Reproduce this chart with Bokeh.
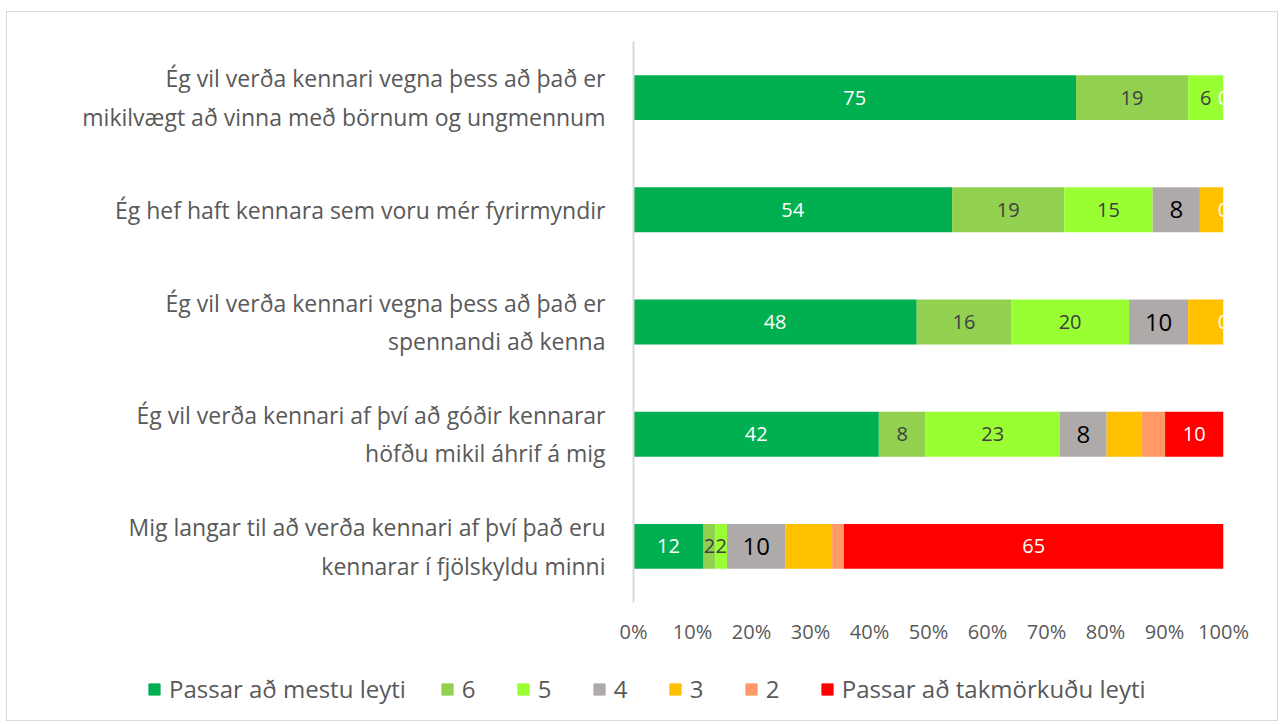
from bokeh.plotting import figure
from bokeh.layouts import column
from bokeh.models import ColumnDataSource, FactorRange, Legend, LegendItem, FixedTicker
from bokeh.core.properties import value
from bokeh.embed import file_html
from bokeh.resources import INLINE

# ---------------- data ----------------
row_labels = [
    "Ég vil verða kennari vegna þess að það er\nmikilvægt að vinna með börnum og ungmennum",
    "Ég hef haft kennara sem voru mér fyrirmyndir",
    "Ég vil verða kennari vegna þess að það er\nspennandi að kenna",
    "Ég vil verða kennari af því að góðir kennarar\nhöfðu mikil áhrif á mig",
    "Mig langar til að verða kennari af því það eru\nkennarar í fjölskyldu minni",
]
series_names = ["Passar að mestu leyti", "6", "5", "4", "3", "2", "Passar að takmörkuðu leyti"]
s7 = [75, 54, 48, 42, 12]
s6 = [19, 19, 16, 8, 2]
s5 = [6, 15, 20, 23, 2]
s4 = [0, 8, 10, 8, 10]
s3 = [0, 4, 6, 6, 8]
s2 = [0, 0, 0, 4, 2]
s1 = [0, 0, 0, 10, 65]
# which segments carry a data label
label_s7 = [True, True, True, True, True]
label_s6 = [True, True, True, True, True]
label_s5 = [True, True, True, True, True]
label_s4 = [False, True, True, True, True]
label_s3 = [False, False, False, False, False]
label_s2 = [False, False, False, False, False]
label_s1 = [True, True, True, True, True]
x_ticks = [0, 10, 20, 30, 40, 50, 60, 70, 80, 90, 100]

series_vals = [s7, s6, s5, s4, s3, s2, s1]
series_lab = [label_s7, label_s6, label_s5, label_s4, label_s3, label_s2, label_s1]
colors = ["#00B050", "#92D050", "#99FF33", "#AEAAAA", "#FFC000", "#FF9966", "#FF0000"]
label_colors = ["#FFFFFF", "#404040", "#404040", "#000000", "#404040", "#404040", "#FFFFFF"]
label_sizes = ["20px", "20px", "20px", "24px", "20px", "20px", "20px"]
FONT = "Open Sans"

# ---------------- normalize to 100% ----------------
n = len(row_labels)
totals = [sum(s[i] for s in series_vals) for i in range(n)]
keys = [f"k{j}" for j in range(len(series_vals))]
data = {"row": row_labels}
for k, s in zip(keys, series_vals):
    data[k] = [100.0 * v / t for v, t in zip(s, totals)]
source = ColumnDataSource(data)

W = 1270
H1, H2 = 650, 58
p = figure(
    width=W, height=H1, output_backend="svg", toolbar_location=None,
    y_range=FactorRange(*reversed(row_labels)), x_range=(0, 100),
    min_border_left=626, min_border_right=54, min_border_top=29, min_border_bottom=60,
)
p.outline_line_color = None
p.background_fill_color = "white"
p.border_fill_color = "white"

renderers = p.hbar_stack(keys, y="row", height=0.4, color=colors, source=source, line_color=None)

# data labels
for j, (k, s, labs) in enumerate(zip(keys, series_vals, series_lab)):
    xs, ys, txt = [], [], []
    for i in range(n):
        if not labs[i]:
            continue
        start = sum(data[kk][i] for kk in keys[:j])
        xs.append(start + data[k][i] / 2.0)
        ys.append(row_labels[i])
        txt.append(str(s[i]))
    if xs:
        p.text(x=xs, y=ys, text=txt, text_align="center", text_baseline="middle",
               text_color=label_colors[j], text_font=value(FONT), text_font_size=label_sizes[j])

# axes
p.xgrid.grid_line_color = None
p.ygrid.grid_line_color = None
p.xaxis.ticker = FixedTicker(ticks=x_ticks)
p.xaxis.major_label_overrides = {t: f"{t}%" for t in x_ticks}
p.xaxis.axis_line_color = None
p.xaxis.major_tick_line_color = None
p.xaxis.minor_tick_line_color = None
p.xaxis.major_label_text_font = FONT
p.xaxis.major_label_text_font_size = "20px"
p.xaxis.major_label_text_color = "#595959"
p.xaxis.major_label_standoff = 9

p.yaxis.axis_line_color = "#d9d9d9"
p.yaxis.axis_line_width = 2
p.yaxis.major_tick_line_color = None
p.yaxis.minor_tick_line_color = None
p.yaxis.major_label_text_font = FONT
p.yaxis.major_label_text_font_size = "23px"
p.yaxis.major_label_text_color = "#595959"
p.yaxis.major_label_standoff = 22

# legend in its own strip below the chart
pl = figure(width=W, height=H2, output_backend="svg", toolbar_location=None,
            x_range=(0, 1), y_range=(0, 1), min_border=0)
pl.frame_align = False
pl.axis.visible = False
pl.grid.grid_line_color = None
pl.outline_line_color = None
# legend proxies (zero-width bars outside the visible range)
dummies = [pl.hbar(y=[-1], left=[0], right=[0], height=0.5, color=c) for c in colors]
items = [LegendItem(label=nm, renderers=[r]) for nm, r in zip(series_names, dummies)]
legend = Legend(items=items, orientation="horizontal", location=(140, 15),
                label_text_font=FONT, label_text_font_size="24px", label_text_color="#595959",
                glyph_width=14, glyph_height=14, label_standoff=8, spacing=34,
                padding=0, margin=0, border_line_color=None, background_fill_alpha=0)
pl.add_layout(legend, "center")

layout = column(p, pl, spacing=0)
layout.margin = (11, 0, 0, 6)
layout.styles = {"border": "1.5px solid #d9d9d9"}

open("out.html", "w").write(file_html(layout, INLINE))
